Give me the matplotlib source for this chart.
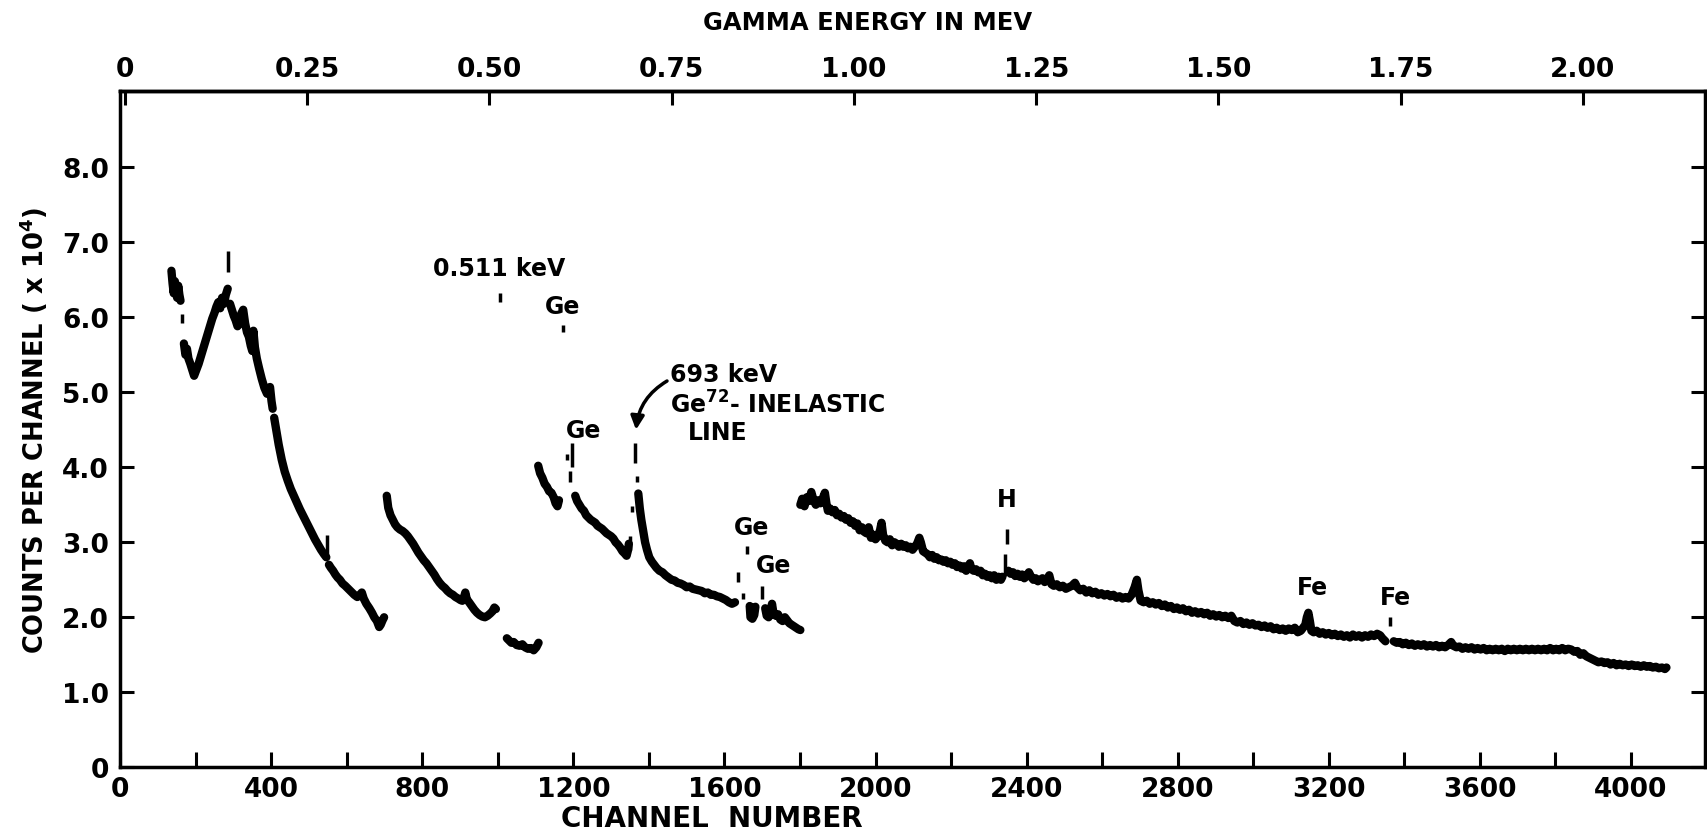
import matplotlib.pyplot as plt

plt.rcParams['font.family'] = ['DejaVu Sans']
plt.rcParams['font.weight'] = 'bold'

# spectrum trace, (channel, counts/1e4) pairs.
# the pen left gaps, so the trace is split where it breaks off.
seg1 = [(136, 6.62), (139, 6.45), (142, 6.32), (145, 6.48), (148, 6.36), (151, 6.26),
        (154, 6.42), (157, 6.3), (160, 6.22)]
seg2 = [(169, 5.65), (173, 5.5), (177, 5.58), (181, 5.45), (186, 5.38), (191, 5.3),
        (196, 5.22), (202, 5.3), (208, 5.38), (214, 5.48), (220, 5.58), (226, 5.68),
        (232, 5.78), (238, 5.88), (244, 5.98), (250, 6.06), (255, 6.14), (260, 6.2),
        (265, 6.12), (270, 6.26), (275, 6.18), (280, 6.3), (285, 6.38)]
seg3 = [(291, 6.18), (296, 6.1), (301, 6.02), (306, 5.96), (311, 5.88), (316, 5.92),
        (321, 6.05), (326, 6.1), (331, 5.92), (336, 5.8), (341, 5.74), (346, 5.62),
        (350, 5.55), (353, 5.82), (357, 5.6), (362, 5.45), (368, 5.32), (375, 5.18),
        (382, 5.06), (389, 4.98), (394, 5.0), (397, 5.07), (401, 4.88), (404, 4.78)]
seg4 = [(408, 4.66), (414, 4.48), (420, 4.3), (428, 4.1), (436, 3.94), (444, 3.82),
        (452, 3.71), (460, 3.62), (468, 3.53), (476, 3.44), (484, 3.36), (492, 3.28),
        (500, 3.2), (508, 3.12), (516, 3.04), (524, 2.97), (532, 2.9), (540, 2.84),
        (546, 2.8)]
seg5 = [(553, 2.7), (558, 2.66), (564, 2.62), (570, 2.57), (576, 2.53), (582, 2.5),
        (589, 2.45), (596, 2.42), (604, 2.38), (612, 2.34), (620, 2.3), (628, 2.27),
        (635, 2.3), (640, 2.33), (645, 2.25), (652, 2.18), (660, 2.12), (667, 2.06),
        (673, 2.0), (680, 1.95), (686, 1.87), (690, 1.9), (695, 1.96), (699, 2.0)]
seg6 = [(706, 3.62), (710, 3.46), (716, 3.36), (722, 3.3), (728, 3.24), (734, 3.2),
        (741, 3.17), (748, 3.15), (755, 3.12), (762, 3.08), (769, 3.03), (776, 2.98),
        (783, 2.92), (790, 2.86), (797, 2.81), (804, 2.76), (811, 2.72), (818, 2.67),
        (825, 2.62), (832, 2.57), (839, 2.51), (846, 2.46), (853, 2.42), (860, 2.39),
        (867, 2.35), (874, 2.32), (881, 2.3), (888, 2.27), (895, 2.25), (901, 2.23),
        (906, 2.22), (910, 2.26), (914, 2.33), (918, 2.24), (924, 2.2), (931, 2.15),
        (938, 2.1), (945, 2.06), (952, 2.03), (959, 2.01), (966, 2.0), (973, 2.02),
        (980, 2.05), (986, 2.08), (991, 2.13), (995, 2.11)]
seg7 = [(1024, 1.72), (1030, 1.69), (1036, 1.66), (1042, 1.67), (1050, 1.63), (1058, 1.62),
        (1065, 1.64), (1072, 1.6), (1080, 1.58), (1088, 1.59), (1095, 1.56), (1102, 1.6),
        (1108, 1.66)]
seg8 = [(1107, 4.02), (1112, 3.92), (1118, 3.86), (1124, 3.78), (1130, 3.74), (1136, 3.68),
        (1142, 3.66), (1148, 3.6), (1153, 3.52), (1158, 3.48), (1162, 3.56)]
seg9 = [(1205, 3.62), (1210, 3.55), (1216, 3.5), (1222, 3.45), (1228, 3.42), (1234, 3.36),
        (1240, 3.33), (1246, 3.3), (1252, 3.28), (1258, 3.26), (1264, 3.22), (1270, 3.2),
        (1276, 3.18), (1282, 3.15), (1288, 3.12), (1294, 3.1), (1300, 3.08), (1306, 3.05),
        (1312, 3.0), (1318, 2.97), (1324, 2.93), (1330, 2.88), (1336, 2.85), (1341, 2.82),
        (1345, 2.9), (1347, 2.98)]
seg10 = [(1372, 3.65), (1376, 3.45), (1380, 3.3), (1385, 3.15), (1390, 3.0), (1395, 2.9),
         (1401, 2.8), (1408, 2.74), (1414, 2.7), (1420, 2.66), (1428, 2.62), (1436, 2.6),
         (1444, 2.56), (1452, 2.53), (1460, 2.5), (1468, 2.49), (1476, 2.46), (1484, 2.45),
         (1492, 2.43), (1500, 2.4), (1508, 2.41), (1516, 2.38), (1524, 2.37), (1532, 2.36),
         (1540, 2.35), (1548, 2.32), (1556, 2.33), (1564, 2.3), (1572, 2.3), (1580, 2.28),
         (1588, 2.27), (1596, 2.25), (1604, 2.23), (1612, 2.2), (1620, 2.18), (1628, 2.2)]
seg11 = [(1667, 2.15), (1669, 2.0), (1674, 1.98), (1679, 2.03), (1682, 2.14)]
seg12 = [(1708, 2.12), (1712, 2.02), (1717, 2.0), (1722, 2.06), (1726, 2.18), (1730, 2.05),
         (1736, 2.02), (1742, 2.04), (1748, 1.97), (1754, 1.95), (1760, 2.0), (1766, 1.96),
         (1772, 1.92), (1778, 1.9), (1784, 1.88), (1790, 1.86), (1796, 1.84), (1801, 1.83)]
seg13 = [(1801, 3.5), (1806, 3.58), (1812, 3.48), (1818, 3.6), (1824, 3.55), (1830, 3.67),
         (1836, 3.56), (1842, 3.5), (1848, 3.56), (1854, 3.52), (1860, 3.58), (1866, 3.66),
         (1870, 3.52), (1874, 3.42), (1880, 3.45), (1886, 3.4), (1892, 3.43), (1898, 3.36),
         (1904, 3.38), (1910, 3.33), (1916, 3.35), (1922, 3.3), (1928, 3.32), (1934, 3.26),
         (1940, 3.28), (1946, 3.22), (1952, 3.25), (1958, 3.16), (1964, 3.2), (1970, 3.14),
         (1976, 3.12), (1982, 3.2), (1988, 3.06), (1994, 3.1), (2000, 3.04), (2006, 3.08),
         (2012, 3.16), (2016, 3.26), (2020, 3.1), (2026, 3.02), (2032, 3.0), (2038, 3.04),
         (2044, 2.96), (2050, 3.0), (2056, 2.98), (2062, 2.94), (2068, 2.98), (2074, 2.94),
         (2080, 2.96), (2086, 2.92), (2092, 2.94), (2098, 2.9), (2104, 2.94), (2110, 2.98),
         (2116, 3.06), (2120, 3.0), (2126, 2.88), (2132, 2.86), (2138, 2.84), (2144, 2.8),
         (2150, 2.83), (2156, 2.78), (2162, 2.8), (2168, 2.76), (2174, 2.77), (2180, 2.74),
         (2186, 2.76), (2192, 2.72), (2198, 2.74), (2204, 2.7), (2210, 2.72), (2216, 2.67),
         (2222, 2.69), (2228, 2.65), (2234, 2.68), (2240, 2.62), (2246, 2.68), (2250, 2.72),
         (2254, 2.64), (2260, 2.62), (2266, 2.64), (2272, 2.6), (2278, 2.62), (2284, 2.56),
         (2290, 2.58), (2296, 2.54), (2302, 2.56), (2308, 2.52), (2314, 2.56), (2320, 2.5),
         (2326, 2.54), (2332, 2.5), (2336, 2.54)]
seg14 = [(2352, 2.62), (2358, 2.58), (2364, 2.6), (2370, 2.55), (2376, 2.58), (2382, 2.54),
         (2388, 2.57), (2394, 2.52), (2400, 2.55), (2406, 2.6), (2412, 2.54), (2418, 2.5),
         (2424, 2.52), (2430, 2.48), (2436, 2.5), (2442, 2.52), (2448, 2.47), (2454, 2.5),
         (2460, 2.56), (2466, 2.44), (2472, 2.42), (2480, 2.44), (2488, 2.4), (2496, 2.42),
         (2504, 2.38), (2512, 2.4), (2520, 2.42), (2528, 2.46), (2534, 2.4), (2542, 2.36),
         (2550, 2.38), (2558, 2.33), (2566, 2.36), (2574, 2.32), (2582, 2.34), (2590, 2.3),
         (2598, 2.32), (2606, 2.29), (2614, 2.31), (2622, 2.28), (2630, 2.3), (2638, 2.26),
         (2646, 2.28), (2654, 2.25), (2662, 2.27), (2670, 2.25), (2678, 2.3), (2686, 2.4),
         (2692, 2.5), (2696, 2.36), (2702, 2.22), (2710, 2.2), (2718, 2.22), (2726, 2.18),
         (2734, 2.2), (2742, 2.17), (2750, 2.19), (2758, 2.15), (2766, 2.17), (2774, 2.13),
         (2782, 2.15), (2790, 2.11), (2798, 2.13), (2806, 2.1), (2814, 2.12), (2822, 2.08),
         (2830, 2.1), (2838, 2.06), (2846, 2.08), (2854, 2.05), (2862, 2.07), (2870, 2.04),
         (2878, 2.06), (2886, 2.02), (2894, 2.04), (2902, 2.01), (2910, 2.03), (2918, 2.0),
         (2926, 2.02), (2934, 1.99), (2942, 2.02), (2950, 1.95), (2958, 1.93), (2966, 1.95),
         (2974, 1.91), (2982, 1.93), (2990, 1.9), (2998, 1.92), (3006, 1.89), (3014, 1.9),
         (3022, 1.87), (3030, 1.89), (3038, 1.86), (3046, 1.88), (3054, 1.84), (3062, 1.86),
         (3070, 1.83), (3078, 1.85), (3086, 1.82), (3094, 1.85), (3102, 1.83), (3110, 1.86),
         (3118, 1.8), (3126, 1.82), (3132, 1.86), (3138, 1.9), (3142, 2.0), (3146, 2.06),
         (3150, 1.95), (3154, 1.82), (3160, 1.8), (3168, 1.82), (3176, 1.78), (3184, 1.8),
         (3192, 1.77), (3200, 1.79), (3208, 1.76), (3216, 1.78), (3224, 1.75), (3232, 1.77),
         (3240, 1.74), (3248, 1.76), (3256, 1.73), (3264, 1.77), (3272, 1.74), (3280, 1.76),
         (3288, 1.73), (3296, 1.76), (3304, 1.74), (3312, 1.77), (3320, 1.75), (3328, 1.78),
         (3336, 1.76), (3342, 1.72), (3350, 1.68)]
seg15 = [(3372, 1.68), (3380, 1.66), (3388, 1.67), (3396, 1.64), (3404, 1.66), (3412, 1.63),
         (3420, 1.65), (3428, 1.62), (3436, 1.64), (3444, 1.62), (3452, 1.64), (3460, 1.61),
         (3468, 1.63), (3476, 1.61), (3484, 1.63), (3492, 1.6), (3500, 1.62), (3508, 1.6),
         (3516, 1.63), (3524, 1.67), (3530, 1.62), (3538, 1.6), (3546, 1.61), (3554, 1.58),
         (3562, 1.6), (3570, 1.58), (3578, 1.6), (3586, 1.57), (3594, 1.59), (3602, 1.57),
         (3610, 1.59), (3618, 1.56), (3626, 1.58), (3634, 1.56), (3642, 1.58), (3650, 1.56),
         (3658, 1.58), (3666, 1.55), (3674, 1.58), (3682, 1.56), (3690, 1.58), (3698, 1.56),
         (3706, 1.58), (3714, 1.56), (3722, 1.58), (3730, 1.56), (3738, 1.58), (3746, 1.56),
         (3754, 1.58), (3762, 1.56), (3770, 1.58), (3778, 1.56), (3786, 1.59), (3794, 1.56),
         (3802, 1.58), (3810, 1.56), (3818, 1.59), (3826, 1.56), (3834, 1.58), (3842, 1.57),
         (3850, 1.54), (3858, 1.55), (3866, 1.5), (3874, 1.52), (3882, 1.48), (3890, 1.46),
         (3898, 1.44), (3906, 1.42), (3914, 1.4), (3922, 1.41), (3930, 1.39), (3938, 1.4),
         (3946, 1.37), (3954, 1.39), (3962, 1.36), (3970, 1.38), (3978, 1.36), (3986, 1.37),
         (3994, 1.35), (4002, 1.37), (4010, 1.35), (4018, 1.36), (4026, 1.34), (4034, 1.36),
         (4042, 1.34), (4050, 1.35), (4058, 1.33), (4066, 1.34), (4074, 1.32), (4082, 1.33),
         (4090, 1.31), (4094, 1.33)]
segments = [seg1, seg2, seg3, seg4, seg5, seg6, seg7, seg8, seg9, seg10,
            seg11, seg12, seg13, seg14, seg15]

# short pen marks left on the steep sides / tops of the peaks
dash_ch = [164, 286, 549, 1005, 1172, 1183, 1191, 1196, 1350, 1355, 1363, 1369,
           1636, 1648, 1659, 1700, 2342, 2347, 3362]
dash_lo = [5.92, 6.6, 2.82, 6.2, 5.8, 4.1, 3.8, 4.0, 2.9, 3.4, 4.06, 3.8,
           2.47, 2.24, 2.84, 2.25, 2.55, 2.98, 1.88]
dash_hi = [6.05, 6.88, 3.1, 6.32, 5.9, 4.18, 3.95, 4.33, 3.09, 3.49, 4.33, 3.88,
           2.6, 2.33, 2.95, 2.42, 2.85, 3.18, 2.0]

peak_labels = ["0.511 keV", "Ge", "Ge", "Ge", "Ge", "H", "Fe", "Fe"]
peak_label_ch = [1003, 1172, 1228, 1672, 1730, 2347, 3157, 3377]
peak_label_cnt = [6.66, 6.15, 4.5, 3.2, 2.7, 3.58, 2.4, 2.27]

y_ticks = [0, 1, 2, 3, 4, 5, 6, 7, 8]
y_tick_labels = ["0", "1.0", "2.0", "3.0", "4.0", "5.0", "6.0", "7.0", "8.0"]
x_ticks = [0, 400, 800, 1200, 1600, 2000, 2400, 2800, 3200, 3600, 4000]
x_minor = [200, 600, 1000, 1400, 1800, 2200, 2600, 3000, 3400, 3800]
energy_ticks = [0, 0.25, 0.5, 0.75, 1.0, 1.25, 1.5, 1.75, 2.0]
energy_tick_labels = ["0", "0.25", "0.50", "0.75", "1.00", "1.25", "1.50", "1.75", "2.00"]

# energy calibration
CH0 = 13
CH_PER_MEV = 1930

fig = plt.figure(figsize=(17.08, 8.37), dpi=100)
ax = fig.add_axes([0.0703, 0.0821, 0.9277, 0.8083])

for seg in segments:
    ch = [p[0] for p in seg]
    cnt = [p[1] for p in seg]
    ax.plot(ch, cnt, color='k', lw=6, solid_joinstyle='round', solid_capstyle='round')

ax.vlines(dash_ch, dash_lo, dash_hi, color='k', lw=2.5)

for lbl, c, v in zip(peak_labels, peak_label_ch, peak_label_cnt):
    ax.text(c, v, lbl, fontsize=17, ha='center', va='center')

ax.text(1457, 5.24, "693 keV", fontsize=17, ha='left', va='center')
ax.text(1457, 4.84, r"Ge$^{\mathbf{72}}$- INELASTIC", fontsize=17, ha='left', va='center')
ax.text(1503, 4.47, "LINE", fontsize=17, ha='left', va='center')
ax.annotate("", xy=(1366, 4.5), xytext=(1448, 5.15),
            arrowprops=dict(arrowstyle='-|>', color='k', lw=2.5, mutation_scale=20,
                            connectionstyle='arc3,rad=0.25', shrinkA=0, shrinkB=0))

ax.set_xlim(0, 4195)
ax.set_ylim(0, 9.02)
ax.set_xticks(x_ticks)
ax.set_xticks(x_minor, minor=True)
ax.set_yticks(y_ticks, y_tick_labels)
ax.tick_params(axis='both', which='both', direction='in', width=2.2, labelsize=19)
ax.tick_params(axis='x', which='both', length=11, pad=6, top=False)
ax.tick_params(axis='y', length=10, pad=8, right=True)
for sp in ax.spines.values():
    sp.set_linewidth(2.5)

sec = ax.secondary_xaxis('top', functions=(lambda c: (c - CH0) / CH_PER_MEV,
                                           lambda e: CH0 + e * CH_PER_MEV))
sec.set_xticks(energy_ticks, energy_tick_labels)
sec.tick_params(direction='in', length=10, width=2.2, labelsize=19, pad=6)
sec.spines['top'].set_linewidth(2.5)

fig.text(0.417, 0.0215, "CHANNEL  NUMBER", fontsize=20, ha='center', va='center')
fig.text(0.508, 0.972, "GAMMA ENERGY IN MEV", fontsize=17.5, ha='center', va='center')
fig.text(0.0195, 0.486, r"COUNTS PER CHANNEL ( x 10$^{\mathbf{4}}$)", fontsize=18.5,
         rotation=90, ha='center', va='center')

fig.savefig("out.png", dpi=100, facecolor='white')
